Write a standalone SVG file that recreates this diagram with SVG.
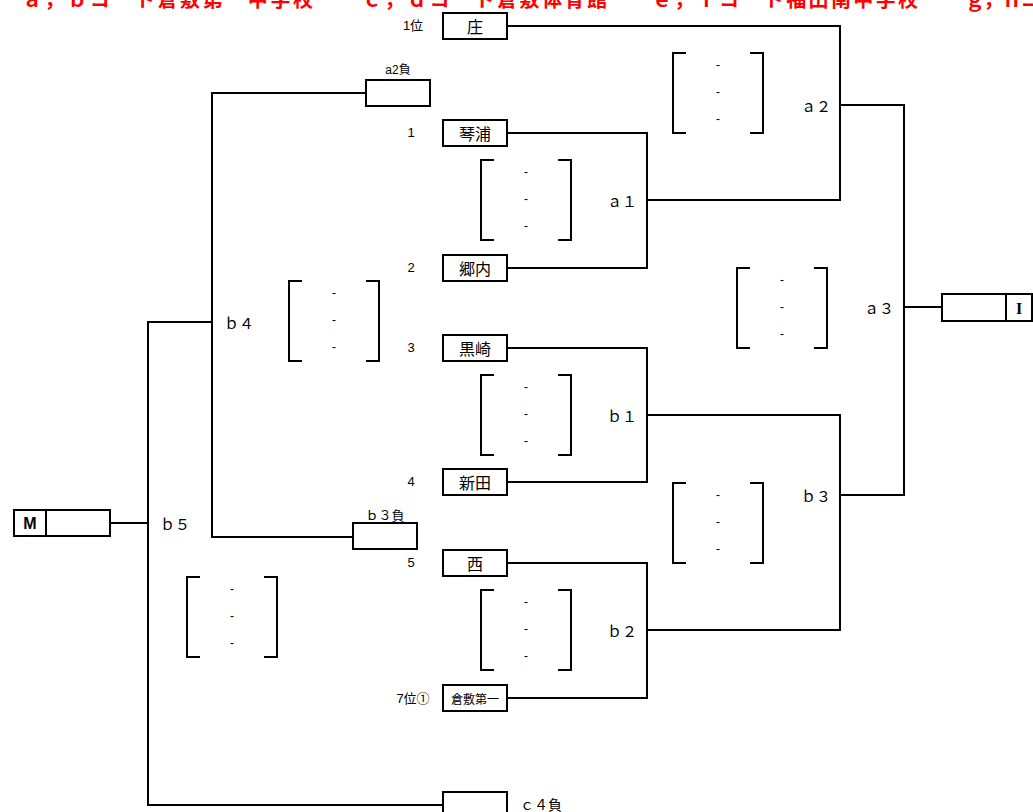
<svg xmlns="http://www.w3.org/2000/svg" width="1033" height="812" viewBox="0 0 1033 812">
<style>
.hdr{font-family:"Noto Sans CJK JP","Noto Sans",sans-serif;font-weight:bold;font-size:20px;fill:#ff0000}
.box{fill:#fff;stroke:#000;stroke-width:2}
.ln{fill:none;stroke:#000;stroke-width:2}
.br{fill:none;stroke:#000;stroke-width:2}
.team{font-family:"Noto Sans CJK JP",sans-serif;font-size:16px;fill:#000;text-anchor:middle;dominant-baseline:central}
.num{font-family:"Liberation Sans","Noto Sans CJK JP",sans-serif;font-size:13px;fill:#000;text-anchor:middle;dominant-baseline:central}
.rd{font-family:"Noto Sans CJK JP",sans-serif;font-size:15px;fill:#000;text-anchor:middle;dominant-baseline:central}
.dash{font-family:"Liberation Sans",sans-serif;font-size:12px;fill:#000;text-anchor:middle;dominant-baseline:central}
.big{font-family:"Liberation Sans",sans-serif;font-weight:bold;font-size:16px;fill:#000;text-anchor:middle;dominant-baseline:central}
</style>
<defs>
<g id="score">
<path class="br" d="M13,0 H0 V80 H13 M77,0 H90 V80 H77"/>
<text class="dash" x="45" y="12">-</text>
<text class="dash" x="45" y="39">-</text>
<text class="dash" x="45" y="66">-</text>
</g>
</defs>
<rect width="1033" height="812" fill="#fff"/>
<g id="header">
<text class="hdr" x="22" y="7" textLength="291" lengthAdjust="spacing">ａ，ｂコート倉敷第一中学校</text>
<text class="hdr" x="362" y="7" textLength="245" lengthAdjust="spacing">ｃ，ｄコート倉敷体育館</text>
<text class="hdr" x="652" y="7" textLength="266" lengthAdjust="spacing">ｅ，ｆコート福田南中学校</text>
<text class="hdr" x="965" y="7" textLength="112" lengthAdjust="spacing">ｇ，ｈコート</text>
</g>
<g id="connectors">
<path class="ln" d="M507,26 H840 V200 H647 M507,133 H647 V268 H507"/>
<path class="ln" d="M840,105 H904 V495 H840 M904,307 H942"/>
<path class="ln" d="M507,348 H647 V482 H507 M647,415 H840 V630 H647 M507,563 H647 V698 H507"/>
<path class="ln" d="M366,93 H212 V537 H353 M212,322 H148 V805 H443 M110,523 H148"/>
</g>
<g id="scores">
<use href="#score" x="673" y="53"/>
<use href="#score" x="481" y="160"/>
<use href="#score" x="737" y="268"/>
<use href="#score" x="289" y="281"/>
<use href="#score" x="481" y="375"/>
<use href="#score" x="673" y="483"/>
<use href="#score" x="481" y="590"/>
<use href="#score" x="187" y="577"/>
</g>
<g id="node-sho"><rect class="box" x="443" y="13" width="64" height="26"/><text class="team" x="475" y="26">庄</text><text class="num" x="413" y="25">1位</text></g>
<g id="node-kotoura"><rect class="box" x="443" y="120" width="64" height="26"/><text class="team" x="475" y="133">琴浦</text><text class="num" x="411" y="132">1</text></g>
<g id="node-gonai"><rect class="box" x="443" y="255" width="64" height="26"/><text class="team" x="475" y="268">郷内</text><text class="num" x="411" y="267">2</text></g>
<g id="node-kurosaki"><rect class="box" x="443" y="335" width="64" height="26"/><text class="team" x="475" y="348">黒崎</text><text class="num" x="411" y="347">3</text></g>
<g id="node-niita"><rect class="box" x="443" y="469" width="64" height="26"/><text class="team" x="475" y="482">新田</text><text class="num" x="411" y="481">4</text></g>
<g id="node-nishi"><rect class="box" x="443" y="550" width="64" height="26"/><text class="team" x="475" y="563">西</text><text class="num" x="411" y="562">5</text></g>
<g id="node-kurashiki1"><rect class="box" x="443" y="685" width="64" height="26"/><text class="team" x="475" y="698" style="font-size:12px">倉敷第一</text><text class="num" x="413" y="698">7位①</text></g>
<g id="node-c4"><rect class="box" x="443" y="792" width="64" height="26"/><text class="rd" x="541" y="804" style="font-size:14px">ｃ４負</text></g>
<g id="node-a2loser"><rect class="box" x="366" y="80" width="64" height="26"/><text class="num" x="398" y="70" style="font-size:12px">a2負</text></g>
<g id="node-b3loser"><rect class="box" x="353" y="523" width="64" height="26"/><text class="rd" x="385" y="514" style="font-size:13px">ｂ３負</text></g>
<g id="node-I"><rect class="box" x="942" y="294" width="90" height="27"/><path class="ln" d="M1006,294 V321"/><text class="big" x="1019" y="308" style="font-family:'Liberation Serif',serif">I</text></g>
<g id="node-M"><rect class="box" x="14" y="510" width="96" height="26"/><path class="ln" d="M46,510 V536"/><text class="big" x="30" y="523">M</text></g>
<g id="round-labels">
<text class="rd" x="816" y="105">ａ２</text>
<text class="rd" x="622" y="200">ａ１</text>
<text class="rd" x="879" y="307">ａ３</text>
<text class="rd" x="622" y="415">ｂ１</text>
<text class="rd" x="816" y="495">ｂ３</text>
<text class="rd" x="622" y="630">ｂ２</text>
<text class="rd" x="239" y="322">ｂ４</text>
<text class="rd" x="175" y="523">ｂ５</text>
</g>
</svg>
